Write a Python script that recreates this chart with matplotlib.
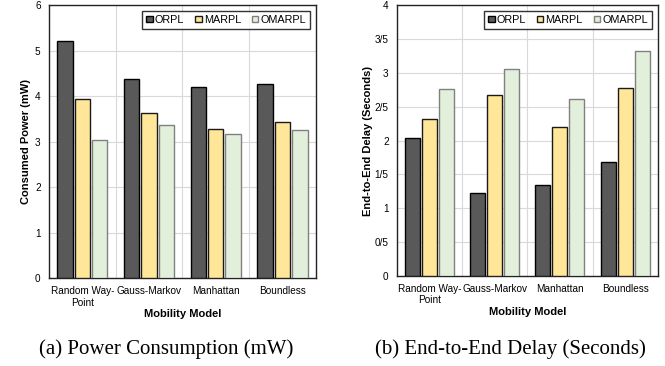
import numpy as np
import matplotlib.pyplot as plt

models = ["Random Way-\nPoint", "Gauss-Markov", "Manhattan", "Boundless"]
series = ["ORPL", "MARPL", "OMARPL"]

power_orpl = [5.22, 4.37, 4.21, 4.27]
power_marpl = [3.94, 3.63, 3.27, 3.44]
power_omarpl = [3.04, 3.36, 3.16, 3.26]

delay_orpl = [2.04, 1.22, 1.34, 1.68]
delay_marpl = [2.32, 2.67, 2.20, 2.78]
delay_omarpl = [2.76, 3.05, 2.62, 3.32]

power_ticks = [0, 1, 2, 3, 4, 5, 6]
power_ticklabels = ["0", "1", "2", "3", "4", "5", "6"]
delay_ticks = [0, 0.5, 1, 1.5, 2, 2.5, 3, 3.5, 4]
delay_ticklabels = ["0", "0/5", "1", "1/5", "2", "2/5", "3", "3/5", "4"]

face = ["#595959", "#FFE699", "#E2EFDA"]
edge = ["#000000", "#1a1a1a", "#808080"]

plt.rcParams['font.family'] = ['Liberation Sans', 'DejaVu Sans']

fig = plt.figure(figsize=(6.65, 3.66), dpi=100)
ax1 = fig.add_axes([0.0737, 0.2404, 0.4013, 0.7456])
ax2 = fig.add_axes([0.597, 0.246, 0.392, 0.740])


def draw(ax, data, ticks, ticklabels, ylabel, ymax, ypad):
    x = np.arange(len(models))
    step = 0.26
    for i, vals in enumerate(data):
        ax.bar(x + (i - 1) * step, vals, width=0.23, color=face[i],
               edgecolor=edge[i], linewidth=1.0, label=series[i], zorder=3)
    ax.set_xlim(-0.5, len(models) - 0.5)
    ax.set_ylim(0, ymax)
    ax.set_xticks(x)
    ax.set_xticklabels(models, fontsize=7.2, linespacing=1.15)
    ax.set_xticks(x[:-1] + 0.5, minor=True)
    ax.set_yticks(ticks)
    ax.set_yticklabels(ticklabels, fontsize=7.2)
    ax.tick_params(which='both', length=0, pad=6)
    ax.grid(True, which='minor', axis='x', color='#d9d9d9', linewidth=0.8, zorder=0)
    ax.grid(True, which='major', axis='y', color='#d9d9d9', linewidth=0.8, zorder=0)
    for s in ax.spines.values():
        s.set_color('#222222')
        s.set_linewidth(1.0)
    ax.set_xlabel("Mobility Model", fontsize=8, fontweight='bold', labelpad=1)
    ax.set_ylabel(ylabel, fontsize=8, fontweight='bold', labelpad=ypad)
    leg = ax.legend(loc='upper right', ncol=3, fontsize=7.8, frameon=True,
                    fancybox=False, edgecolor='black', handlelength=0.6,
                    handleheight=0.6, handletextpad=0.2, columnspacing=1.0,
                    borderaxespad=0.5, borderpad=0.4)
    leg.get_frame().set_linewidth(1.0)


draw(ax1, [power_orpl, power_marpl, power_omarpl], power_ticks,
     power_ticklabels, "Consumed Power (mW)", 6, 3)
draw(ax2, [delay_orpl, delay_marpl, delay_omarpl], delay_ticks,
     delay_ticklabels, "End-to-End Delay (Seconds)", 4, 1)

fig.text(0.250, 0.046, "(a) Power Consumption (mW)", ha='center', va='center',
         fontsize=15, family='Liberation Serif')
fig.text(0.767, 0.046, "(b) End-to-End Delay (Seconds)", ha='center', va='center',
         fontsize=15, family='Liberation Serif')

fig.savefig("out.png", dpi=100)
